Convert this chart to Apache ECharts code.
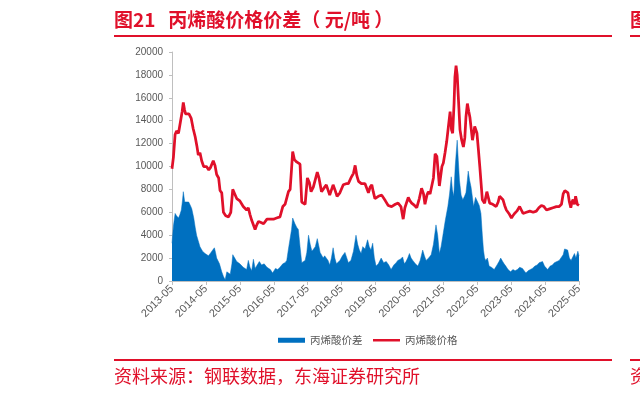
<!DOCTYPE html>
<html>
<head>
<meta charset="utf-8">
<script src="https://cdn.jsdelivr.net/npm/echarts@6/dist/echarts.min.js"></script>
<style>
html,body{margin:0;padding:0;background:#fff;}
#c{width:640px;height:394px;}
</style>
</head>
<body>
<div id="c"></div>
<script>
// x positions are months elapsed since 2013-05
const tickLabels = ['2013-05','2014-05','2015-05','2016-05','2017-05','2018-05','2019-05','2020-05','2021-05','2022-05','2023-05','2024-05','2025-05'];

const priceMonths = [0,0.5,1.1,1.6,2.3,2.9,3.6,4.0,4.4,4.8,6.0,6.8,7.5,8.2,8.8,9.3,9.9,10.5,11.2,12.2,13.0,13.6,14.6,15.2,15.8,16.5,17.0,17.6,18.2,19.0,20.0,20.8,21.5,22.2,22.9,24.0,25.2,26.4,27.0,27.6,28.2,29.4,30.0,30.6,31.5,32.4,33.6,35.0,35.9,37.0,38.2,39.2,40.0,40.6,41.2,41.8,42.3,42.7,43.3,44.1,45.3,45.9,47.1,47.9,48.6,49.2,50.0,51.4,52.0,52.9,54.0,54.6,55.8,57.0,57.6,58.4,59.4,60.6,61.6,62.4,63.3,64.2,64.8,65.4,66.0,67.0,68.3,68.8,69.5,70.1,70.7,71.2,71.8,73.0,74.2,75.5,76.5,77.7,79.0,80.0,81.0,81.8,82.4,83.6,84.2,84.8,85.8,86.6,87.5,88.3,89.0,89.5,90.2,90.7,91.3,91.9,92.5,93.1,93.7,94.6,95.5,96.0,96.6,97.2,97.8,98.4,98.9,99.3,99.8,100.1,100.5,100.9,101.3,101.9,102.5,103.1,103.6,104.0,104.5,105.0,105.4,106.3,106.8,107.1,107.9,108.4,108.9,109.4,109.8,110.6,111.0,111.4,111.9,112.4,113.5,114.7,115.4,115.9,116.5,117.1,117.7,118.3,119.2,120.1,120.6,121.2,122.0,123.0,123.6,124.2,125.4,126.6,127.8,128.9,129.8,130.7,131.6,132.5,133.6,134.8,136.0,137.0,137.8,138.4,139.0,139.6,140.1,140.6,141.1,141.5,141.9,142.4,142.8,143.4,144.0];
const priceValues = [9800,10800,12800,13100,12900,13000,14800,15600,15000,14600,14600,14200,13300,12600,11800,11000,11200,10500,10000,10000,9700,9900,10500,10100,9300,9000,7900,7700,6000,5700,5600,6000,8000,7600,7200,7000,6500,6200,6400,5800,5300,4500,4900,5200,5100,5000,5400,5400,5400,5500,5600,6500,6700,6800,7800,8000,9800,11300,10600,10400,10200,6900,6700,9000,8600,7800,8200,9500,9000,7800,8200,8400,7500,8400,8000,7400,7700,8400,8500,8500,9000,9400,10100,9200,8700,8500,8500,8600,7700,8200,8400,7800,7200,7400,7500,7000,6600,6500,6700,6800,6500,5400,6400,7300,7000,6800,6600,6400,7200,8100,7600,6700,7500,7800,7600,7500,9000,11100,10900,8300,10000,10300,11200,12200,13500,14800,13200,12900,15500,17800,18800,18000,16100,13200,12300,11700,12500,14300,15500,14800,14300,12300,13000,13500,12900,11500,10000,8400,7100,6800,6900,7800,7300,6800,6700,6500,6900,7400,7300,7100,6600,6200,5900,5500,5700,5900,6100,6500,6200,5900,6000,6100,6000,6100,6400,6600,6500,6200,6300,6400,6500,6500,6700,7600,7900,7800,7700,6900,6400,6900,7100,6700,7400,6700,6600];

const spreadMonths = [0,0.5,1.1,1.6,2.3,2.8,3.3,3.7,4.0,4.5,5.0,5.9,6.5,7.0,7.7,8.2,8.7,9.3,9.9,10.8,11.7,12.9,13.8,14.4,15.0,15.4,15.8,16.8,17.6,18.2,18.8,19.4,20.0,20.6,21.2,21.5,22.2,22.9,24.0,25.2,26.4,27.0,27.6,28.2,28.8,29.4,30.0,30.9,31.7,32.6,33.6,34.8,35.6,36.6,37.4,38.2,39.2,40.0,40.6,41.2,41.8,42.3,42.7,43.5,44.1,44.7,45.3,45.9,47.1,47.7,48.3,48.9,49.5,50.1,50.7,51.4,52.0,52.4,53.5,54.0,54.6,55.2,55.8,56.4,57.0,57.6,58.2,58.8,59.4,60.3,61.2,61.6,62.4,63.3,64.2,65.1,65.7,66.3,66.9,67.5,68.3,69.2,69.8,70.4,71.0,71.6,72.2,73.0,74.0,74.9,75.8,76.7,77.5,78.5,79.3,79.9,80.8,81.6,82.2,82.8,83.4,84.0,84.6,85.2,86.1,87.0,87.8,88.7,89.3,89.9,90.8,91.7,92.5,93.4,94.0,94.6,95.2,95.8,96.7,97.6,98.2,98.8,99.2,99.7,100.2,100.9,101.3,101.7,102.3,102.9,103.5,104.0,104.5,104.8,105.3,105.8,106.3,106.7,107.4,108.1,108.7,109.3,109.8,110.2,110.6,111.0,111.6,112.2,113.0,114.0,115.0,115.7,116.3,117.0,117.5,118.1,118.9,119.8,120.6,121.4,122.2,123.0,124.0,124.6,125.2,126.0,126.7,127.5,128.4,129.2,129.9,130.5,131.1,131.8,132.9,133.8,134.6,135.3,136.2,137.0,137.6,138.4,138.9,139.4,140.0,140.6,141.2,141.8,142.4,142.9,143.6,144.0];
const spreadValues = [3300,4800,5900,5700,5500,5800,6200,7000,7800,6900,6800,6900,6600,6300,5500,4700,4000,3500,3000,2600,2400,2200,2500,2700,2900,2500,2000,1500,800,400,100,800,700,600,1500,2300,2000,1700,1500,1200,1000,1800,1200,900,1900,1100,1200,1700,1400,1500,1200,1000,700,1100,1000,1200,1500,1600,1800,2800,2800,4500,5500,5000,4700,4500,3000,1600,1800,2500,4000,3200,2600,2800,3000,3700,3000,2500,2000,2200,2300,1800,1400,2000,2900,2000,1500,1600,1800,2200,2500,2400,1600,1800,2600,4000,3200,2700,2400,3000,2800,3600,3000,2700,3300,2000,1300,1500,2000,1600,1700,1400,1000,1400,1600,1800,1900,2100,1500,1700,2000,2400,2000,1800,1500,1300,1800,2700,2200,1800,2000,2300,3200,4900,4000,2400,3000,3900,5300,6500,7600,9100,8000,7400,10000,12300,10500,8800,7500,7100,7400,7700,8800,9600,8800,8200,7300,6500,7300,7400,6600,5900,4000,2700,2000,1800,2000,1300,1200,1000,1400,1700,2000,1700,1500,1300,1000,800,1000,900,1000,1200,1100,900,700,900,1000,1100,1300,1400,1600,1700,1700,1300,1000,1300,1400,1600,1700,1800,1800,2300,2800,2800,2700,2000,1800,2100,2400,2000,2600,2200];

const RED = '#E0102A';
const BLUE = '#0070C0';
const TXT = '#595959';

const chart = echarts.init(document.getElementById('c'), null, {renderer: 'canvas'});
chart.setOption({
  animation: false,
  backgroundColor: '#fff',
  textStyle: {fontFamily: "'Liberation Sans', 'Noto Sans CJK SC', sans-serif"},
  grid: {left: 172, right: 61, top: 52, bottom: 113, containLabel: false},
  xAxis: {
    type: 'value', min: 0, max: 144, interval: 12,
    axisLine: {show: true, lineStyle: {color: '#BFBFBF', width: 1}},
    axisTick: {show: true, length: 4, lineStyle: {color: '#BFBFBF'}},
    splitLine: {show: false},
    axisLabel: {
      rotate: 45, fontSize: 11, color: TXT, margin: 6,
      formatter: v => tickLabels[Math.round(v / 12)] || ''
    }
  },
  yAxis: {
    type: 'value', min: 0, max: 20000, interval: 2000,
    axisLine: {show: true, lineStyle: {color: '#BFBFBF', width: 1}},
    axisTick: {show: true, length: 3, lineStyle: {color: '#BFBFBF'}},
    splitLine: {show: false},
    axisLabel: {fontSize: 10, color: TXT, margin: 9, formatter: v => String(v)}
  },
  legend: [
    {
      data: [{name: '丙烯酸价差', icon: 'rect'}],
      left: 278, top: 335, padding: 0, itemWidth: 27, itemHeight: 5,
      itemStyle: {borderWidth: 0},
      textStyle: {fontSize: 10.5, color: TXT, fontFamily: "'Noto Sans CJK SC', sans-serif"}
    },
    {
      data: [{name: '丙烯酸价格', icon: 'rect'}],
      left: 373, top: 335, padding: 0, itemWidth: 27, itemHeight: 2.5,
      itemStyle: {borderWidth: 0},
      textStyle: {fontSize: 10.5, color: TXT, fontFamily: "'Noto Sans CJK SC', sans-serif"}
    }
  ],
  series: [
    {
      name: '丙烯酸价差', type: 'line', symbol: 'none',
      data: spreadMonths.map((m, i) => [m, spreadValues[i]]),
      lineStyle: {width: 0.5, color: BLUE},
      itemStyle: {color: BLUE},
      areaStyle: {color: BLUE, opacity: 1},
      z: 2
    },
    {
      name: '丙烯酸价格', type: 'line', symbol: 'none',
      data: priceMonths.map((m, i) => [m, priceValues[i]]),
      lineStyle: {width: 2.75, color: RED},
      itemStyle: {color: RED},
      z: 3
    }
  ],
  graphic: [
    {type: 'text', left: 114, top: 10, style: {text: '图21   丙烯酸价格价差（ 元/吨 ）', fill: RED, font: "bold 19px 'Noto Sans CJK SC', sans-serif"}},
    {type: 'rect', shape: {x: 114, y: 35, width: 498, height: 2}, style: {fill: RED}},
    {type: 'text', left: 630, top: 10, style: {text: '图', fill: RED, font: "bold 19px 'Noto Sans CJK SC', sans-serif"}},
    {type: 'rect', shape: {x: 630, y: 35, width: 10, height: 2}, style: {fill: RED}},
    {type: 'rect', shape: {x: 114, y: 359, width: 498, height: 2}, style: {fill: RED}},
    {type: 'text', left: 114, top: 367, style: {text: '资料来源：钢联数据，东海证券研究所', fill: RED, font: "18px 'Noto Sans CJK SC', sans-serif"}},
    {type: 'rect', shape: {x: 630, y: 359, width: 10, height: 2}, style: {fill: RED}},
    {type: 'text', left: 630, top: 367, style: {text: '资', fill: RED, font: "18px 'Noto Sans CJK SC', sans-serif"}}
  ]
});
</script>
</body>
</html>
